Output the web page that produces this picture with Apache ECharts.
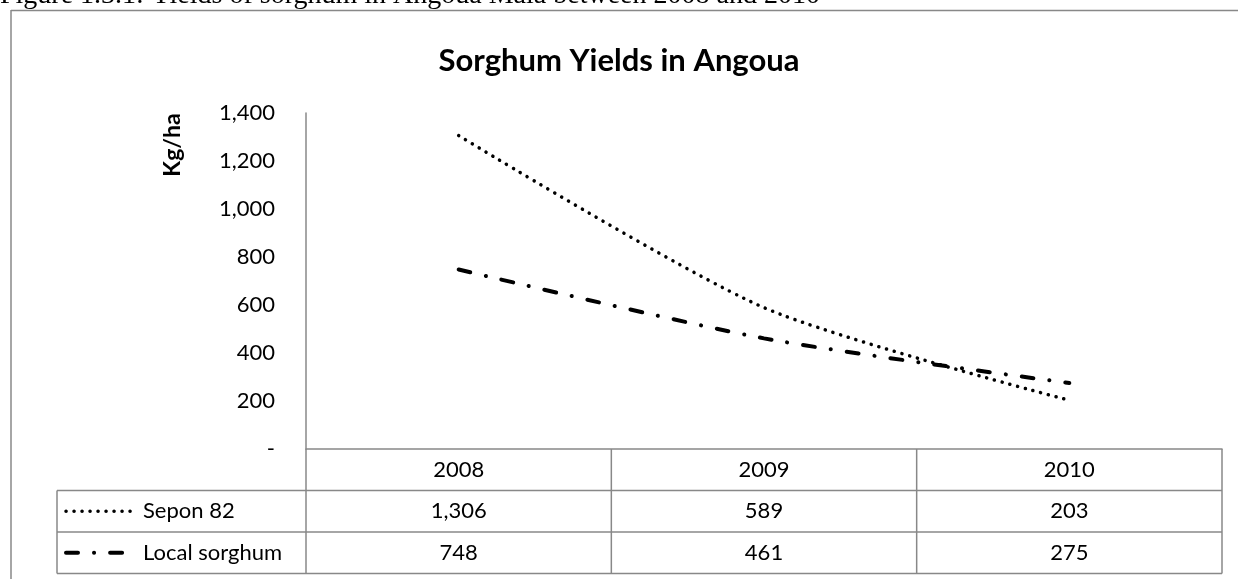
<!DOCTYPE html>
<html>
<head>
<meta charset="utf-8">
<title>Sorghum Yields in Angoua</title>
<script src="https://cdn.jsdelivr.net/npm/echarts@6/dist/echarts.min.js"></script>
<style>
  html, body { margin: 0; padding: 0; background: #fff; }
  #chart { width: 1238px; height: 579px; }
</style>
</head>
<body>
<div id="chart"></div>
<script>
// data
let years = ['2008', '2009', '2010'];
let sepon = [1306, 589, 203];
let localSorghum = [748, 461, 275];
let seriesNames = ['Sepon 82', 'Local sorghum'];
let caption = 'Figure 1.3.1: Yields of sorghum in Angoua Mala between 2008 and 2010';

let font = 'Lato';
let gray = '#888';
let dotted = [0.1, 7.9];
let dashDot = [12, 16, 0.1, 16];
let txtSize = 22;

// plot area (zero line is top of the data table)
let gLeft = 306, gRight = 1222, gTop = 113, gZero = 449;
let rowH = 41.5;
let legLeft = 57;

let fmt = v => v === 0 ? '-' : v.toLocaleString('en-US');

let myChart = echarts.init(document.getElementById('chart'));

// data table under the plot, built from the arrays above
let graphics = [];
let colW = (gRight - gLeft) / years.length;
let rows = [sepon, localSorghum];
let styles = [dotted, dashDot];
let tableBottom = gZero + rowH * 3;

let hline = (x1, x2, y) => ({ type: 'line', shape: { x1: x1, y1: y, x2: x2, y2: y }, style: { stroke: gray, lineWidth: 1.5 } });
let vline = (x, y1, y2) => ({ type: 'line', shape: { x1: x, y1: y1, x2: x, y2: y2 }, style: { stroke: gray, lineWidth: 1.5 } });

for (let r = 1; r <= 3; r++) graphics.push(hline(legLeft, gRight, gZero + rowH * r));
graphics.push(vline(legLeft, gZero + rowH, tableBottom));
for (let c = 0; c <= years.length; c++) graphics.push(vline(gLeft + colW * c, gZero, tableBottom));

years.forEach((y, i) => {
  graphics.push({
    type: 'text', x: gLeft + colW * (i + 0.5), y: gZero + rowH / 2,
    style: { text: y, font: txtSize + 'px ' + font, fill: '#000', textAlign: 'center', textVerticalAlign: 'middle' }
  });
  rows.forEach((vals, r) => {
    graphics.push({
      type: 'text', x: gLeft + colW * (i + 0.5), y: gZero + rowH * (r + 1.5),
      style: { text: fmt(vals[i]), font: txtSize + 'px ' + font, fill: '#000', textAlign: 'center', textVerticalAlign: 'middle' }
    });
  });
});

seriesNames.forEach((name, r) => {
  let cy = gZero + rowH * (r + 1.5);
  graphics.push({
    type: 'line', shape: { x1: 66, y1: cy, x2: 135, y2: cy },
    style: { stroke: '#000', lineWidth: r === 0 ? 3.5 : 4, lineDash: styles[r], lineCap: 'round' }
  });
  graphics.push({
    type: 'text', x: 143, y: cy,
    style: { text: name, font: txtSize + 'px ' + font, fill: '#000', textAlign: 'left', textVerticalAlign: 'middle' }
  });
});

// outer frame and the clipped caption above it
graphics.push(hline(11, 1238, 10.5));
graphics.push(vline(11, 10, 579));
graphics.push({
  type: 'text', x: 0, y: 10,
  style: { text: caption, font: '28px "Liberation Serif"', fill: '#000', textAlign: 'left', textVerticalAlign: 'bottom' }
});

// y axis name
graphics.push({
  type: 'text', x: 173, y: 145, rotation: Math.PI / 2,
  style: { text: 'Kg/ha', font: 'bold 23px ' + font, fill: '#000', textAlign: 'center', textVerticalAlign: 'middle' }
});

let option = {
  animation: false,
  title: {
    text: 'Sorghum Yields in Angoua',
    left: 'center',
    top: 40,
    textStyle: { fontFamily: font, fontWeight: 'bold', fontSize: 31, color: '#000' }
  },
  grid: {
    left: gLeft,
    right: 1238 - gRight,
    top: gTop,
    bottom: 579 - gZero,
    containLabel: false
  },
  xAxis: {
    type: 'category',
    boundaryGap: true,
    data: years,
    axisLine: { show: true, lineStyle: { color: gray, width: 1.5 } },
    axisTick: { show: false },
    axisLabel: { show: false },
    splitLine: { show: false }
  },
  yAxis: {
    type: 'value',
    min: 0,
    max: 1400,
    interval: 200,
    axisLine: { show: true, lineStyle: { color: gray, width: 1.5 } },
    axisTick: { show: false },
    splitLine: { show: false },
    axisLabel: {
      margin: 31,
      fontFamily: font,
      fontSize: txtSize,
      color: '#000',
      formatter: fmt
    }
  },
  series: [
    {
      name: seriesNames[0],
      type: 'line',
      data: sepon,
      smooth: 0.25,
      symbol: 'none',
      lineStyle: { color: '#000', width: 3.5, type: dotted, cap: 'round' }
    },
    {
      name: seriesNames[1],
      type: 'line',
      data: localSorghum,
      smooth: 0.25,
      symbol: 'none',
      lineStyle: { color: '#000', width: 4, type: dashDot, cap: 'round' }
    }
  ],
  graphic: graphics
};
myChart.setOption(option);
</script>
</body>
</html>
